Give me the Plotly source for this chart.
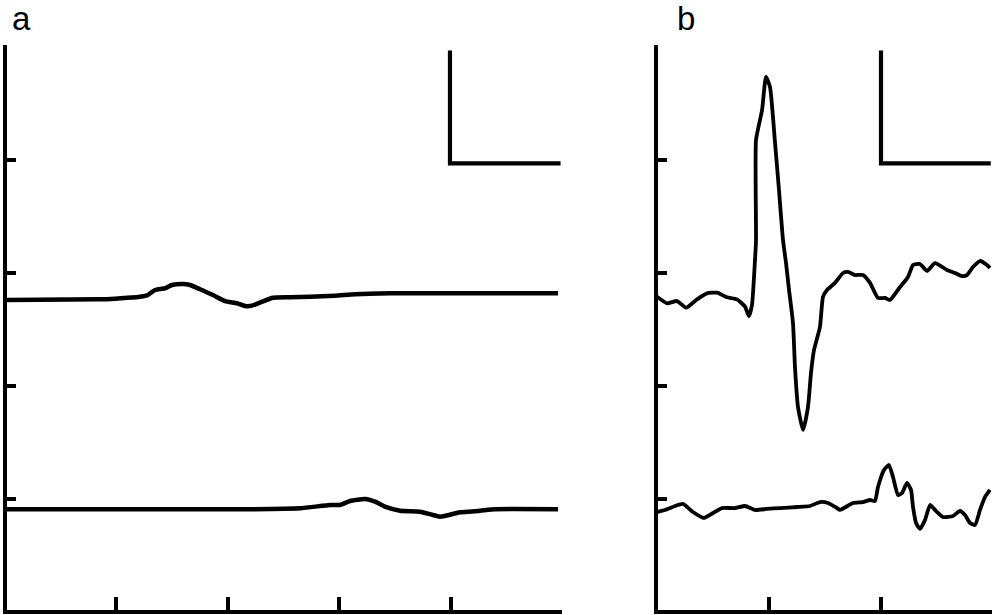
import plotly.graph_objects as go

# ---------------- data (units: 1 = one tick interval) ----------------
# Panel a, upper trace
a_top_x = [0.0, 0.857, 0.991, 1.215, 1.286, 1.349, 1.439, 1.501, 1.600, 1.662, 1.752, 1.868,
           1.976, 2.083, 2.155, 2.218, 2.307, 2.405, 2.558, 2.737, 2.961, 3.140, 3.453, 4.035, 4.957]
a_top_y = [2.761, 2.767, 2.773, 2.790, 2.805, 2.850, 2.865, 2.894, 2.903, 2.894, 2.856, 2.805,
           2.752, 2.732, 2.708, 2.711, 2.746, 2.781, 2.785, 2.790, 2.799, 2.812, 2.820, 2.820, 2.820]
# Panel a, lower trace
a_bot_x = [0.0, 2.110, 2.647, 2.916, 3.005, 3.095, 3.229, 3.319, 3.408, 3.543, 3.722, 3.901,
           3.945, 4.080, 4.259, 4.393, 4.957]
a_bot_y = [0.909, 0.909, 0.918, 0.947, 0.947, 0.982, 1.000, 0.976, 0.932, 0.896, 0.888, 0.843,
           0.850, 0.882, 0.896, 0.909, 0.909]
# Panel b, upper trace
b_top_x = [0.0, 0.089, 0.179, 0.259, 0.357, 0.446, 0.536, 0.625, 0.714, 0.786, 0.821, 0.848,
           0.875, 0.884, 0.884, 0.938, 0.973, 1.009, 1.054, 1.089, 1.125, 1.152, 1.179, 1.214,
           1.232, 1.259, 1.304, 1.348, 1.375, 1.402, 1.455, 1.482, 1.518, 1.589, 1.661, 1.705,
           1.768, 1.839, 1.902, 1.973, 2.036, 2.080, 2.170, 2.241, 2.286, 2.348, 2.411, 2.482,
           2.589, 2.661, 2.723, 2.768, 2.821, 2.884, 2.946, 2.973]
b_top_y = [2.790, 2.732, 2.752, 2.693, 2.767, 2.820, 2.826, 2.785, 2.767, 2.702, 2.619, 2.717,
           3.115, 3.292, 4.177, 4.442, 4.735, 4.646, 4.150, 3.735, 3.292, 3.088, 2.850, 2.558,
           2.168, 1.814, 1.611, 1.814, 2.115, 2.319, 2.522, 2.788, 2.850, 2.912, 3.000, 3.009,
           2.982, 2.982, 2.912, 2.779, 2.779, 2.761, 2.876, 2.965, 3.071, 3.080, 3.018, 3.088,
           3.027, 3.000, 2.973, 2.982, 3.053, 3.106, 3.071, 3.044]
# Panel b, lower trace
b_bot_x = [0.0, 0.071, 0.161, 0.232, 0.321, 0.420, 0.500, 0.580, 0.696, 0.786, 0.875, 0.982,
           1.098, 1.250, 1.366, 1.455, 1.527, 1.607, 1.634, 1.750, 1.839, 1.902, 1.946, 1.973,
           2.027, 2.071, 2.107, 2.152, 2.188, 2.232, 2.268, 2.286, 2.313, 2.348, 2.393, 2.438,
           2.482, 2.554, 2.643, 2.705, 2.750, 2.795, 2.839, 2.884, 2.929, 2.973]
b_bot_y = [0.885, 0.903, 0.938, 0.956, 0.885, 0.832, 0.876, 0.920, 0.920, 0.938, 0.903, 0.912,
           0.920, 0.929, 0.938, 0.973, 0.965, 0.920, 0.903, 0.965, 0.973, 0.991, 0.982, 1.106,
           1.257, 1.301, 1.195, 1.035, 1.053, 1.142, 1.080, 0.929, 0.788, 0.735, 0.814, 0.947,
           0.903, 0.841, 0.850, 0.894, 0.858, 0.788, 0.770, 0.903, 1.018, 1.080]

# Scale bars (corner x, corner y, horizontal length, vertical length)
scale_a = (3.99, 3.97, 0.99, 1.0)
scale_b = (2.0, 3.97, 0.98, 1.0)

x_ticks_a = [1, 2, 3, 4]
x_ticks_b = [1, 2]
y_ticks = [1, 2, 3, 4]
panel_labels = ["a", "b"]

W, H = 992, 615

fig = go.Figure()

def add_line(x, y, xa, ya, w, shape="linear"):
    fig.add_trace(go.Scatter(x=x, y=y, mode="lines", xaxis=xa, yaxis=ya,
                             line=dict(color="black", width=w, shape=shape,
                                       smoothing=0.5 if shape == "spline" else None),
                             showlegend=False, hoverinfo="skip"))

add_line(a_top_x, a_top_y, "x", "y", 4.5, "spline")
add_line(a_bot_x, a_bot_y, "x", "y", 4.5, "spline")
add_line(b_top_x, b_top_y, "x2", "y2", 3.8, "spline")
add_line(b_bot_x, b_bot_y, "x2", "y2", 3.8, "spline")

for (cx, cy, lx, ly), xa, ya in [(scale_a, "x", "y"), (scale_b, "x2", "y2")]:
    add_line([cx, cx, cx + lx], [cy + ly, cy, cy], xa, ya, 4.2)

ax_common = dict(showline=True, linecolor="black", linewidth=4, ticks="inside",
                 tickcolor="black", tickwidth=4, showticklabels=False,
                 showgrid=False, zeroline=False, fixedrange=True)

# pixel geometry: tick spacing ~111.7 px (a), 112 px (b), 113 px vertical
xa0, xa_step = 4.3, 111.7
xb0, xb_step = 657.0, 112.0
y0_px, y_step = 612.0, 113.0

xa_start, xa_end = 7.0, 561.7
xb_start, xb_end = 658.0, 991.5
y_bot_px, y_top_px = 610.0, 44.7

xa_range = [(xa_start - xa0) / xa_step, (xa_end - xa0) / xa_step]
xb_range = [(xb_start - xb0) / xb_step, (xb_end - xb0) / xb_step]
y_range = [(y0_px - y_bot_px) / y_step, (y0_px - y_top_px) / y_step]
ya_dom = [(H - y_bot_px) / H, (H - y_top_px) / H]

label_font = dict(family="Liberation Sans, Arial", size=33, color="black")

fig.update_layout(
    width=W, height=H, autosize=False,
    margin=dict(l=0, r=0, t=0, b=0, pad=0),
    paper_bgcolor="white", plot_bgcolor="white",
    xaxis=dict(domain=[xa_start / W, xa_end / W], range=xa_range,
               tickvals=x_ticks_a, ticklen=13, anchor="y", **ax_common),
    yaxis=dict(domain=ya_dom, range=y_range, tickvals=y_ticks, ticklen=9,
               anchor="x", **ax_common),
    xaxis2=dict(domain=[xb_start / W, xb_end / W], range=xb_range,
                tickvals=x_ticks_b, ticklen=13, anchor="y2", **ax_common),
    yaxis2=dict(domain=ya_dom, range=y_range, tickvals=y_ticks, ticklen=9,
                anchor="x2", **ax_common),
    annotations=[
        dict(text=panel_labels[0], x=10 / W, y=(H - 39) / H, xref="paper", yref="paper",
             xanchor="left", yanchor="bottom", showarrow=False, font=label_font),
        dict(text=panel_labels[1], x=675 / W, y=(H - 39) / H, xref="paper", yref="paper",
             xanchor="left", yanchor="bottom", showarrow=False, font=label_font),
    ],
)

fig.write_html("out.html", config={"displayModeBar": False},
               post_script="document.body.style.margin='0';document.body.style.padding='0';"
                           "document.documentElement.style.overflow='hidden';")
